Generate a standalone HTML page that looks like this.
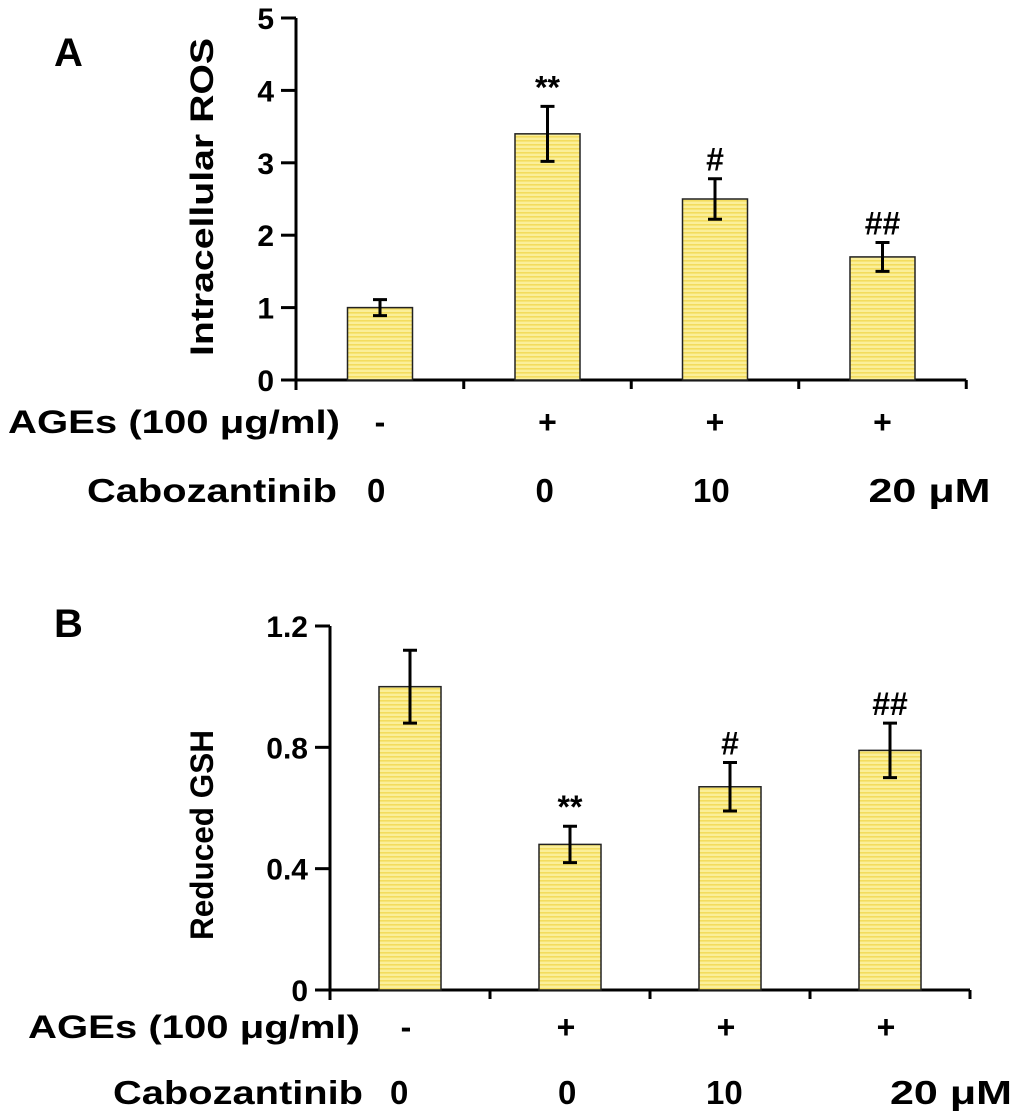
<!DOCTYPE html>
<html><head><meta charset="utf-8"><style>
body{margin:0;background:#fff}
svg{display:block}
text{font-family:"Liberation Sans",Arial,sans-serif;font-weight:bold;fill:#000}
</style></head><body>
<svg id="chart" width="1020" height="1118" viewBox="0 0 1020 1118" xmlns="http://www.w3.org/2000/svg">
<defs>
<pattern id="stripe" width="4" height="4" patternUnits="userSpaceOnUse">
<rect width="4" height="4" fill="#fbef9a"/><rect width="4" height="1.6" fill="#f3dc5e"/>
</pattern>
</defs>
</svg>
<script>
const groups=["g1","g2","g3","g4"];
const agesLabels=["-","+","+","+"];
const caboLabels=["0","0","10","20 μM"];
const rosValues=[1.0,3.4,2.5,1.7];
const rosErrors=[0.11,0.38,0.28,0.2];
const rosMarks=["","**","#","##"];
const rosTicks=[0,1,2,3,4,5];
const gshValues=[1.0,0.48,0.67,0.79];
const gshErrors=[0.12,0.06,0.08,0.09];
const gshMarks=["","**","#","##"];
const gshTicks=[0,0.4,0.8,1.2];

const svg=document.getElementById('chart');
const NS="http://www.w3.org/2000/svg";
function mk(tag,attrs,txt){const e=document.createElementNS(NS,tag);for(const k in attrs)e.setAttribute(k,attrs[k]);if(txt!==undefined)e.textContent=txt;svg.appendChild(e);return e;}

function panel(p){
  const y=v=>p.y0-(v-p.ymin)/(p.ymax-p.ymin)*(p.y0-p.y1);
  const x=i=>p.xc0+i*p.step;
  let e;
  e=mk('line',{x1:p.ax,y1:p.y1,x2:p.ax,y2:p.y0+10,stroke:'#000','stroke-width':3});
  
  
  e=mk('line',{x1:p.ax-14,y1:p.y0,x2:x(3)+p.step/2,y2:p.y0,stroke:'#000','stroke-width':3});
  
  
  p.ticks.forEach((t,i)=>{
    const l=mk('line',{x1:p.ax-15,y1:y(t),x2:p.ax,y2:y(t),stroke:'#000','stroke-width':3});
    
    
    const tx=mk('text',{x:p.ax-22,y:y(t)+11,'font-size':30,'text-anchor':'end'},p.tickLabels[i]);
    
    
  });
  for(let i=1;i<=groups.length;i++){
    const xx=x(i)-p.step/2;
    const l=mk('line',{x1:xx,y1:p.y0,x2:xx,y2:p.y0+9,stroke:'#000','stroke-width':3});
    
    
  }
  const tl=mk('text',{transform:`translate(${p.titleX},${p.titleY}) rotate(-90)`,'font-size':32,'text-anchor':'middle',textLength:p.titleLen,lengthAdjust:'spacingAndGlyphs'},p.title);
  
  
  p.values.forEach((v,i)=>{
    const cx=x(i);
    const r=mk('rect',{x:cx-p.bw/2,y:y(v),width:p.bw,height:p.y0-y(v),fill:'url(#stripe)',stroke:'#222','stroke-width':1.5});
    
    
    const eh=y(v+p.errors[i]),el=y(v-p.errors[i]);
    const g=mk('path',{d:`M${cx},${eh}V${el}M${cx-7},${eh}H${cx+7}M${cx-7},${el}H${cx+7}`,stroke:'#000','stroke-width':3,fill:'none'});
    
    
    if(p.marks[i]){
      const m=mk('text',{x:cx,y:eh-8,'font-size':32,'text-anchor':'middle'},p.marks[i]);
      
      
    }
    const a=mk('text',{x:cx+p.ageDx,y:p.ageY,'font-size':32,'text-anchor':'middle'},agesLabels[i]);
    
    
    const attrs={x:cx+p.caboDx[i],y:p.caboY,'font-size':33,'text-anchor':'start'};
    if(caboLabels[i].length>3){attrs.textLength=122;attrs.lengthAdjust='spacingAndGlyphs';}
    const c=mk('text',attrs,caboLabels[i]);
    
    
  });
  let t=mk('text',{x:p.rowX,y:p.ageY,'font-size':32,textLength:332,lengthAdjust:'spacingAndGlyphs'},'AGEs (100 μg/ml)');
  
  
  t=mk('text',{x:p.caboX,y:p.caboY,'font-size':33,textLength:250,lengthAdjust:'spacingAndGlyphs'},'Cabozantinib');
  
  
  t=mk('text',{x:p.letterX,y:p.letterY,'font-size':40},p.letter);
  
  
}
panel({id:'panel-a',ax:296,y0:380,y1:18,ymin:0,ymax:5,xc0:380,step:167.5,bw:65,
  ticks:rosTicks,tickLabels:rosTicks.map(String),values:rosValues,errors:rosErrors,marks:rosMarks,
  title:'Intracellular ROS',titleX:213,titleY:197,titleLen:318,ageY:433,ageDx:0,caboY:502,caboDx:[-13,-12,-22,-14],
  rowX:8,caboX:87,letter:'A',letterX:54,letterY:66});
panel({id:'panel-b',ax:330,y0:990,y1:626,ymin:0,ymax:1.2,xc0:410,step:160,bw:62,
  ticks:gshTicks,tickLabels:["0","0.4","0.8","1.2"],values:gshValues,errors:gshErrors,marks:gshMarks,
  title:'Reduced GSH',titleX:213,titleY:835,titleLen:210,ageY:1038,ageDx:-4,caboY:1104,caboDx:[-20,-12,-24,0],
  rowX:28,caboX:113,letter:'B',letterX:54,letterY:637});
</script>
</body></html>
